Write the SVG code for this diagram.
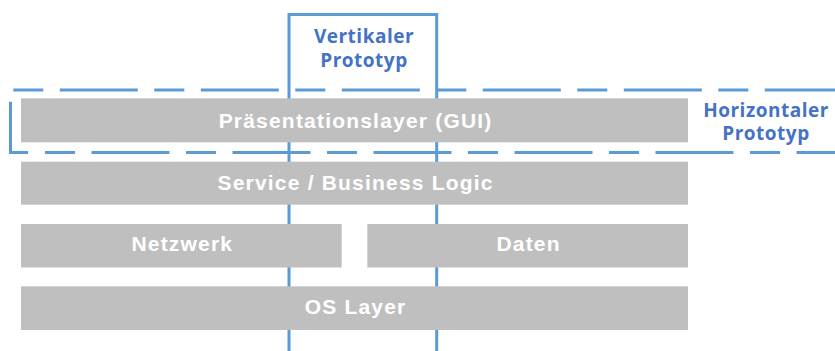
<svg xmlns="http://www.w3.org/2000/svg" width="835" height="351" viewBox="0 0 835 351">
  <defs>
    <style>
      .bar { fill: #BFBFBF; }
      .barText { font-family: "Liberation Sans", Arial, sans-serif; font-weight: bold; font-size: 21px; letter-spacing: 1.2px; fill: #FFFFFF; text-anchor: middle; }
      .label { font-family: "Open Sans", "Noto Sans", sans-serif; font-weight: bold; font-size: 19px; letter-spacing: 0.5px; fill: #4472C4; text-anchor: middle; }
      .frame { fill: none; stroke: #5B9BD5; stroke-width: 3; }
      .dash { fill: none; stroke: #5B9BD5; stroke-width: 3; stroke-dasharray: 30 16.5 78 16.5; }
    </style>
    <filter id="soft" x="-2%" y="-10%" width="104%" height="120%">
      <feGaussianBlur stdDeviation="0.6"/>
    </filter>
  </defs>
  <rect width="835" height="351" fill="#FFFFFF"/>

  <g id="connectors">
    <g id="vertikaler-prototyp-frame">
      <path class="frame" d="M289 353 V14.5 H436.7 V353"/>
    </g>
    <g id="horizontaler-prototyp-frame">
      <line class="dash" x1="13.3" y1="90" x2="850" y2="90"/>
      <line class="dash" x1="45" y1="152.5" x2="850" y2="152.5"/>
      <path class="frame" d="M10.5 101.7 V152.5 H28"/>
    </g>
  </g>

  <g id="praesentationslayer">
    <rect class="bar" x="21" y="98.3" width="667" height="44" filter="url(#soft)"/>
    <text class="barText" x="355.6" y="127.7">Präsentationslayer (GUI)</text>
  </g>
  <g id="service">
    <rect class="bar" x="21" y="161.7" width="667" height="43" filter="url(#soft)"/>
    <text class="barText" x="355.6" y="190">Service / Business Logic</text>
  </g>
  <g id="netzwerk">
    <rect class="bar" x="21" y="224" width="320.7" height="43.5" filter="url(#soft)"/>
    <text class="barText" x="182.3" y="251">Netzwerk</text>
  </g>
  <g id="daten">
    <rect class="bar" x="367.3" y="224" width="320.7" height="43.5" filter="url(#soft)"/>
    <text class="barText" x="528.6" y="251">Daten</text>
  </g>
  <g id="os-layer">
    <rect class="bar" x="21" y="286.3" width="667" height="43.7" filter="url(#soft)"/>
    <text class="barText" x="355.6" y="314.3">OS Layer</text>
  </g>

  <g id="vertikaler-prototyp">
    <text class="label"><tspan x="364" y="43.3">Vertikaler</tspan><tspan x="364" y="66.7">Prototyp</tspan></text>
  </g>
  <g id="horizontaler-prototyp">
    <text class="label"><tspan x="766" y="116.5">Horizontaler</tspan><tspan x="766" y="140">Prototyp</tspan></text>
  </g>
</svg>
